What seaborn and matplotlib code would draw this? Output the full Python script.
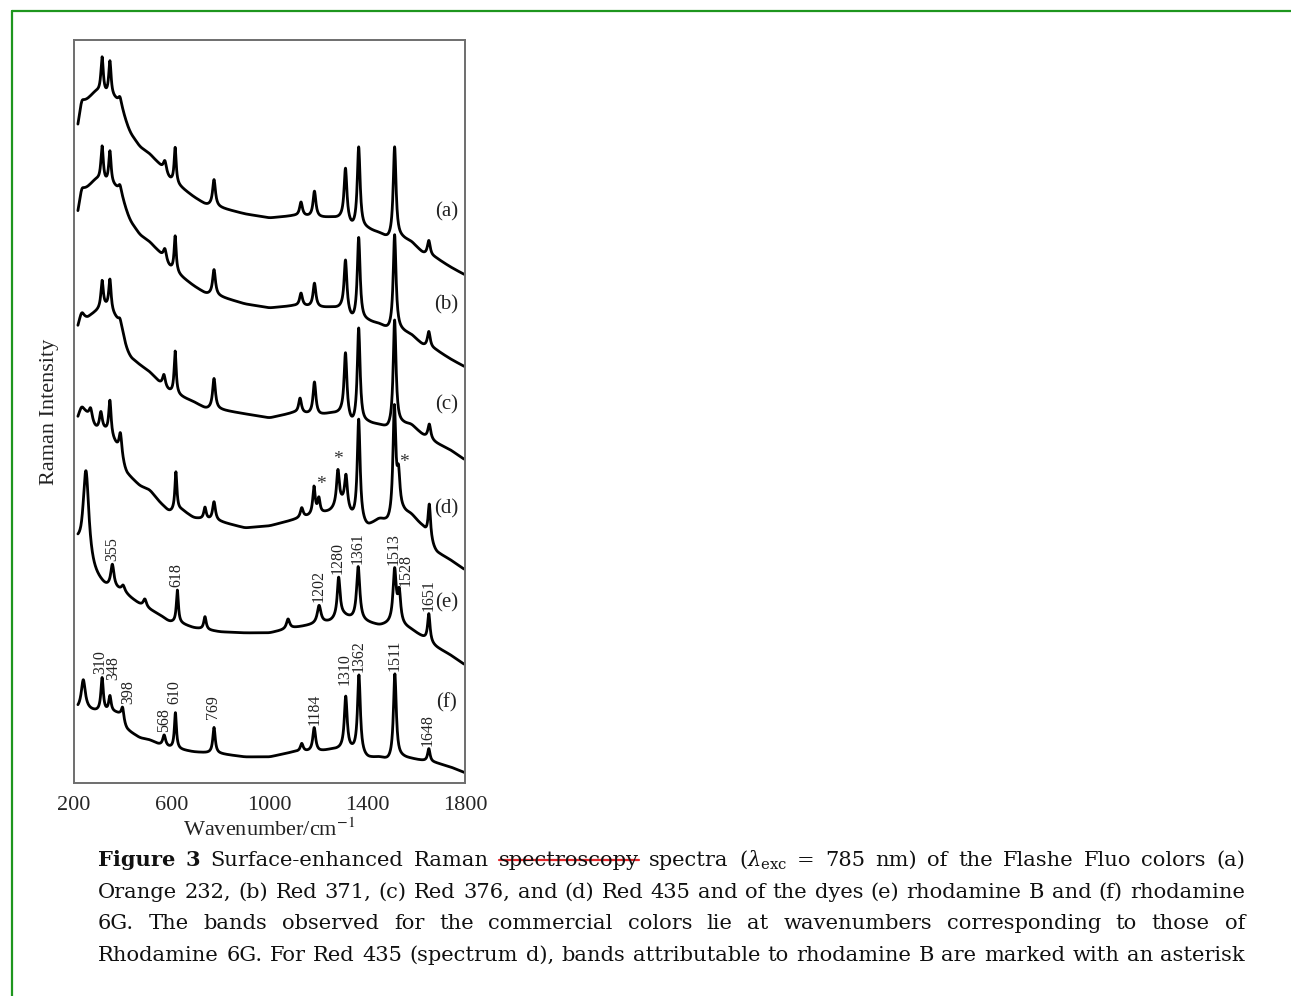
import numpy as np
import pandas as pd
import matplotlib
matplotlib.use('Agg')
import matplotlib.pyplot as plt
from matplotlib.lines import Line2D
import seaborn as sns

W, H = 1291, 996

# baseline anchors (cm-1) shared by all six spectra
wn_anchor = [216, 226, 250, 290, 330, 370, 395, 410, 430, 470, 510, 550, 590,
             640, 690, 740, 800, 900, 1000, 1100, 1200, 1250, 1300, 1340, 1400,
             1450, 1490, 1540, 1580, 1630, 1680, 1740, 1800]

# baselines (arbitrary intensity, stacked)
base_a = [650, 683, 683, 691, 686, 683, 675, 663, 650, 636, 629, 618, 603, 595, 586, 578, 575,
          569, 565, 567, 565, 565, 563, 553, 553, 549, 542, 544, 541, 529, 525, 516, 508]
base_b = [564, 595, 595, 603, 598, 595, 587, 575, 562, 548, 541, 530, 515, 506, 497, 489, 486,
          479, 475, 477, 475, 475, 473, 460, 461, 458, 451, 451, 448, 437, 433, 424, 416]
base_c = [452, 473, 465, 471, 475, 465, 455, 438, 426, 418, 411, 400, 391, 386, 381, 374, 373,
          369, 365, 370, 367, 369, 368, 355, 359, 357, 352, 358, 358, 347, 340, 333, 323]
base_d = [362, 378, 370, 353, 351, 338, 325, 311, 306, 297, 293, 281, 271, 273, 265, 263, 261,
          255, 257, 263, 268, 271, 278, 263, 255, 263, 258, 270, 268, 255, 231, 223, 213]
base_e = [235, 223, 211, 203, 195, 193, 191, 189, 185, 178, 173, 168, 161, 159, 155, 153, 151,
          150, 150, 155, 159, 161, 167, 163, 160, 157, 158, 157, 153, 145, 136, 128, 118]
base_f = [73, 73, 73, 71, 70, 70, 67, 55, 51, 45, 43, 38, 35, 33, 31, 30, 29,
          26, 26, 31, 31, 33, 33, 31, 24, 25, 21, 25, 24, 22, 20, 16, 10]

# bands: (position cm-1, height, half width)
peaks_a = [(315, 37, 6), (347, 36, 6), (388, 8, 8), (572, 12, 8), (614, 36, 5), (773, 27, 7),
           (1129, 14, 7), (1184, 26, 7), (1311, 53, 7), (1365, 82, 7), (1512, 93, 7), (1652, 15, 7)]
peaks_b = [(315, 36, 6), (347, 34, 6), (388, 8, 8), (572, 12, 8), (614, 36, 5), (773, 26, 7),
           (1129, 13, 7), (1184, 24, 7), (1311, 52, 7), (1365, 84, 7), (1512, 97, 7), (1652, 16, 7)]
peaks_c = [(315, 28, 6), (347, 32, 6), (388, 6, 8), (568, 12, 7), (614, 43, 5), (773, 31, 7),
           (1125, 15, 7), (1184, 33, 7), (1311, 64, 7), (1365, 97, 7), (1512, 108, 7), (1654, 15, 7)]
peaks_d = [(268, 12, 8), (310, 18, 7), (347, 36, 6), (390, 22, 7), (617, 39, 5), (736, 12, 6),
           (773, 19, 7), (1132, 10, 7), (1182, 28, 6), (1202, 15, 6), (1280, 36, 7), (1313, 32, 7),
           (1365, 103, 7), (1511, 110, 7), (1528, 35, 7), (1654, 35, 6)]
peaks_e = [(249, 100, 15), (357, 23, 8), (401, 6, 8), (490, 8, 8), (623, 33, 5), (736, 13, 6),
           (1076, 10, 8), (1203, 18, 9), (1283, 40, 7), (1363, 54, 8), (1512, 54, 8), (1531, 30, 7),
           (1652, 28, 6)]
peaks_f = [(238, 30, 10), (315, 34, 6), (347, 16, 6), (399, 12, 6), (569, 11, 7), (615, 36, 5),
           (773, 26, 6), (1132, 8, 7), (1183, 24, 7), (1312, 53, 7), (1366, 79, 7), (1513, 86, 7),
           (1652, 13, 6)]

spec_names = ['(a)', '(b)', '(c)', '(d)', '(e)', '(f)']
bands_e = [355, 618, 1202, 1280, 1361, 1513, 1528, 1651]
bands_f = [310, 348, 398, 568, 610, 769, 1184, 1310, 1362, 1511, 1648]
bands_star = [1202, 1280, 1528]

caption_lines = [
    'Figure 3 Surface-enhanced Raman spectroscopy spectra ($\\lambda_{\\mathrm{exc}}$ = 785 nm) of the Flashe Fluo colors (a)',
    'Orange 232, (b) Red 371, (c) Red 376, and (d) Red 435 and of the dyes (e) rhodamine B and (f) rhodamine',
    '6G. The bands observed for the commercial colors lie at wavenumbers corresponding to those of',
    'Rhodamine 6G. For Red 435 (spectrum d), bands attributable to rhodamine B are marked with an asterisk',
]

wn = np.arange(216, 1801, 1.0)


def build(base, peaks):
    y = np.interp(wn, wn_anchor, base)
    # soften the corners between anchors
    k = 21
    pad = np.pad(y, k // 2, mode='edge')
    y = np.convolve(pad, np.ones(k) / k, mode='valid')
    for c, h, w in peaks:
        y = y + h / (1 + ((wn - c) / w) ** 2)
    return y


curves = dict(zip(spec_names, [build(base_a, peaks_a), build(base_b, peaks_b),
                               build(base_c, peaks_c), build(base_d, peaks_d),
                               build(base_e, peaks_e), build(base_f, peaks_f)]))
df = pd.concat([pd.DataFrame({'wn': wn, 'intensity': y, 'spectrum': k})
                for k, y in curves.items()], ignore_index=True)

sns.set_style('white')
plt.rcParams['font.family'] = ['Liberation Serif', 'DejaVu Serif']
plt.rcParams['mathtext.fontset'] = 'stix'

fig = plt.figure(figsize=(W / 100, H / 100), dpi=100)
ax = fig.add_axes([74 / W, 1 - 783 / H, 391 / W, 743 / H])

sns.lineplot(data=df, x='wn', y='intensity', units='spectrum', estimator=None,
             color='black', lw=2.0, sort=False, legend=False, ax=ax)

ax.set_xlim(200, 1800)
ax.set_ylim(0, 743)
ax.set_xticks([200, 600, 1000, 1400, 1800])
ax.set_xticks(np.arange(200, 1801, 100), minor=True)
ax.set_yticks([])
ax.tick_params(axis='x', which='both', direction='in', color='#707070', labelsize=16,
               pad=9, width=1)
ax.tick_params(axis='x', which='major', length=8)
ax.tick_params(axis='x', which='minor', length=6.5)
for sp in ax.spines.values():
    sp.set_color('#6e6e6e')
    sp.set_linewidth(1.4)
ax.set_xlabel('Wavenumber/cm$^{-1}$', fontsize=16, labelpad=3, color='#222222')
ax.set_ylabel('Raman Intensity', fontsize=16, labelpad=11, color='#222222')


def top(y, band):
    m = np.abs(wn - band) <= 6
    return y[m].max()


# band labels on (e) and (f)
shift_e = {1513: (-3, 0), 1528: (28, -2)}
shift_f = {310: (-4, 0), 348: (14, 12), 398: (26, 0), 610: (0, 6), 769: (0, 5),
           1310: (-4, 8), 1362: (3, 0)}
for bands, key, shift in [(bands_e, '(e)', shift_e), (bands_f, '(f)', shift_f)]:
    y = curves[key]
    for b in bands:
        dx, dy = shift.get(b, (0, 0))
        ax.text(b + dx, top(y, b) + 3 + dy, str(b), rotation=90, ha='center', va='bottom',
                fontsize=11.5, color='#222222')

# asterisks on (d)
star_shift = [(8, 12), (0, 10), (22, 2)]
for b, (dx, dy) in zip(bands_star, star_shift):
    ax.text(b + dx, np.interp(b, wn, curves['(d)']) + dy, '*', ha='center', va='center',
            fontsize=14, color='#333333')

# spectrum letters
letter_dy = [52, 51, 43, 49, 50, 63]
for k, dy in zip(spec_names, letter_dy):
    ax.text(1724, np.interp(1724, wn, curves[k]) + dy, k, ha='center', va='center',
            fontsize=15, color='#222222')

# caption, justified word by word
renderer = fig.canvas.get_renderer()
cap_kw = dict(family='DejaVu Serif', math_fontfamily='dejavuserif', color='#111111')
probe = fig.text(0, 0, caption_lines[3], fontsize=10, **cap_kw)
fs = 10 * 1138 / probe.get_window_extent(renderer).width
probe.remove()

left, right = 98, 1245
baselines = [866, 897.5, 929, 960.5]
for i, line in enumerate(caption_lines):
    words = line.split(' ')
    texts, widths = [], []
    for j, wd in enumerate(words):
        weight = 'bold' if (i == 0 and j < 2) else 'normal'
        t = fig.text(0, 1 - baselines[i] / H, wd, fontsize=fs, weight=weight,
                     ha='left', va='baseline', **cap_kw)
        texts.append(t)
        widths.append(t.get_window_extent(renderer).width)
    gap = (right - left - sum(widths)) / (len(words) - 1)
    x = left
    for t, wdt in zip(texts, widths):
        t.set_x(x / W)
        if t.get_text() == 'spectroscopy':
            yy = 1 - (baselines[i] - 6) / H
            fig.add_artist(Line2D([x / W, (x + wdt) / W], [yy, yy], color='#e3262a',
                                  lw=1.6, transform=fig.transFigure))
        x += wdt + gap

# green frame
green = '#1e961e'
fig.add_artist(Line2D([12 / W, 1], [1 - 11 / H, 1 - 11 / H], color=green, lw=1.6,
                      transform=fig.transFigure))
fig.add_artist(Line2D([12 / W, 12 / W], [0, 1 - 11 / H], color=green, lw=1.6,
                      transform=fig.transFigure))

fig.savefig('out.png', dpi=100)
